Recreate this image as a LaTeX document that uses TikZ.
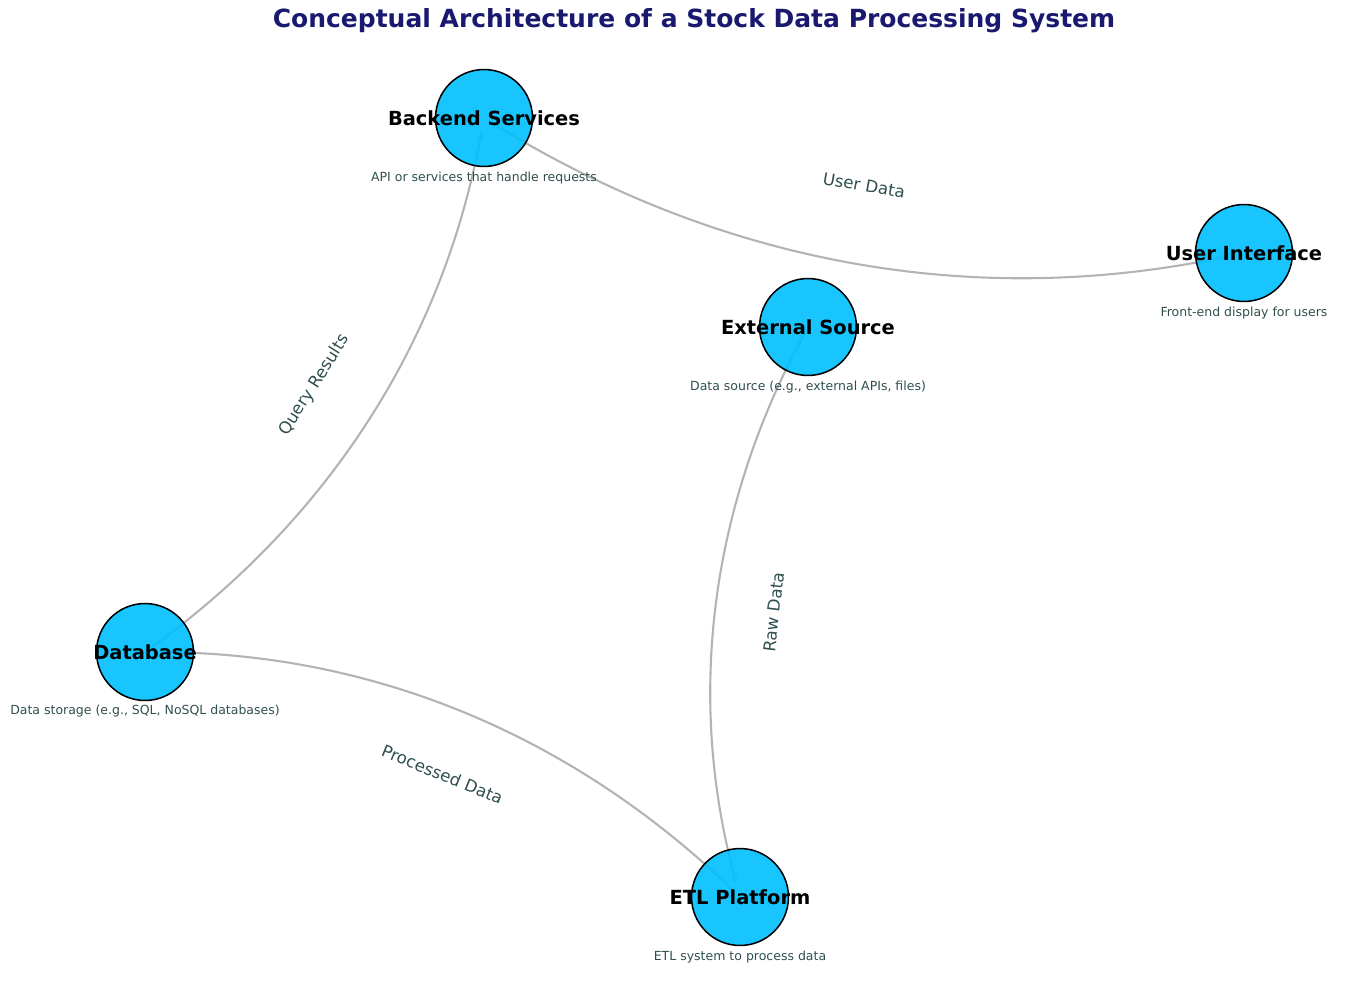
\documentclass[tikz,border=0pt]{standalone}
\usepackage{fontspec}
\setmainfont{DejaVu Sans}
\usetikzlibrary{arrows.meta,calc}
\definecolor{nodefill}{HTML}{00BFFF}
\definecolor{titleblue}{HTML}{191970}
\definecolor{slate}{HTML}{2F4F4F}
\definecolor{edgegray}{HTML}{B3B3B3}
\pgfdeclarelayer{background}
\pgfsetlayers{background,main}
\begin{document}
\begin{tikzpicture}[x=0.72pt,y=-0.72pt,
  sysnode/.style={circle, draw=black, line width=1.1pt, fill=nodefill, fill opacity=0.9, minimum size=69.8pt, inner sep=0pt},
  nlabel/.style={font=\bfseries\fontsize{14}{16}\selectfont, text=black, inner sep=0pt},
  desc/.style={font=\fontsize{9}{11}\selectfont, text=slate, inner sep=0pt},
  flow/.style={draw=edgegray, line width=1.5pt, -{Triangle[length=6pt,width=4.5pt]}, shorten >=10pt, shorten <=5pt},
  elabel/.style={font=\fontsize{12}{14}\selectfont, text=slate, inner sep=0pt}]
\useasboundingbox (0,0) rectangle (1368,989);

\node[font=\bfseries\fontsize{18}{22}\selectfont, text=titleblue] (title) at (694,21) {Conceptual Architecture of a Stock Data Processing System};

% nodes
\node[sysnode] (be) at (484,118) {};
\node[sysnode] (ui) at (1244,253) {};
\node[sysnode] (ex) at (808,327) {};
\node[sysnode] (db) at (145,652) {};
\node[sysnode] (etl) at (740,897) {};

\node[nlabel] (belab) at (be) {Backend Services};
\node[nlabel] (uilab) at (ui) {User Interface};
\node[nlabel] (exlab) at (ex) {External Source};
\node[nlabel] (dblab) at (db) {Database};
\node[nlabel] (etllab) at (etl) {ETL Platform};

\node[desc] (bedesc) at (484,178) {API or services that handle requests};
\node[desc] (uidesc) at (1244,313) {Front-end display for users};
\node[desc] (exdesc) at (808,387) {Data source (e.g., external APIs, files)};
\node[desc] (dbdesc) at (145,711) {Data storage (e.g., SQL, NoSQL databases)};
\node[desc] (etldesc) at (740,957) {ETL system to process data};

% control points (quadratic arcs)
\coordinate (cq) at (421.3,452.8);
\coordinate (cu) at (837,337.5);
\coordinate (cr) at (660,598.4);
\coordinate (cp) at (491.5,655.5);

\begin{pgfonlayer}{background}
\draw[flow] (db.center) .. controls ($(db.center)!0.6667!(cq)$) and ($(be.center)!0.6667!(cq)$) .. (be.center);
\draw[flow] (be.center) .. controls ($(be.center)!0.6667!(cu)$) and ($(ui.center)!0.6667!(cu)$) .. (ui.center);
\draw[flow] (ex.center) .. controls ($(ex.center)!0.6667!(cr)$) and ($(etl.center)!0.6667!(cr)$) .. (etl.center);
\draw[flow] (etl.center) .. controls ($(etl.center)!0.6667!(cp)$) and ($(db.center)!0.6667!(cp)$) .. (db.center);
\end{pgfonlayer}

% edge labels
\node[elabel, rotate=57.6] (lq) at (314.5,385) {Query Results};
\node[elabel, rotate=-10.1] (lu) at (864,185.5) {User Data};
\node[elabel, rotate=83.2] (lr) at (774,612) {Raw Data};
\node[elabel, rotate=-22.4] (lp) at (442.5,774.5) {Processed Data};
\end{tikzpicture}
\end{document}
